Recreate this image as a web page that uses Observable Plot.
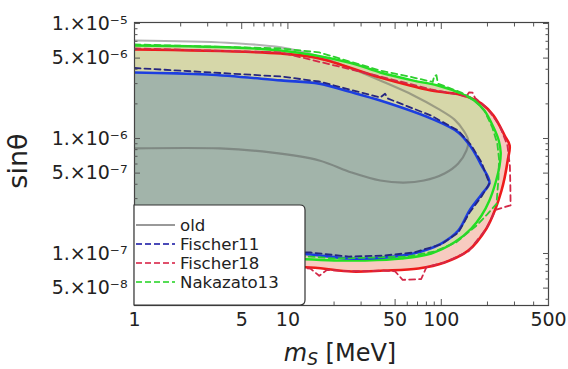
<!DOCTYPE html>
<html>
<head>
<meta charset="utf-8">
<script src="https://cdn.jsdelivr.net/npm/d3@7"></script>
<script src="https://cdn.jsdelivr.net/npm/@observablehq/plot@0.6"></script>
<style>
  html, body { margin: 0; padding: 0; background: #fff; }
  #chart { width: 568px; height: 369px; }
  #chart svg { overflow: visible; }
</style>
</head>
<body>
<div id="chart"></div>
<script>
// Excluded regions in the (m_S, sin theta) plane, as closed contours [m_S in MeV, sin theta].
const redEdge = [
  [1, 5.94e-6], [9, 5.48e-6], [16, 4.97e-6], [40, 3.39e-6], [86, 2.61e-6], [141, 2.37e-6],
  [183, 2.01e-6], [219, 1.58e-6], [259, 1.06e-6], [279, 8.69e-7], [271, 6.44e-7], [259, 4.58e-7],
  [247, 3.53e-7], [226, 2.46e-7], [197, 1.65e-7], [150, 1.06e-7], [105, 8.35e-8], [71, 7.41e-8],
  [42, 7.11e-8], [26, 6.97e-8], [14, 7.55e-8], [1, 8.35e-8]
];
const greenEdge = [
  [1, 6.44e-6], [9, 5.82e-6], [25, 4.58e-6], [40, 3.75e-6], [66, 3.19e-6], [95, 2.89e-6],
  [135, 2.46e-6], [164, 2.14e-6], [191, 1.75e-6], [219, 1.25e-6], [237, 9.6e-7], [244, 7.56e-7],
  [240, 5.82e-7], [226, 4.14e-7], [206, 2.89e-7], [183, 2.14e-7], [157, 1.65e-7], [122, 1.25e-7],
  [86, 1.0e-7], [55, 9.05e-8], [32, 8.7e-8], [20, 8.7e-8], [13, 8.9e-8], [1, 9.6e-8]
];
const blueEdge = [
  [1, 3.75e-6], [3, 3.6e-6], [9, 3.2e-6], [16, 3.0e-6], [25, 2.56e-6], [40, 2.14e-6],
  [86, 1.49e-6], [129, 1.13e-6], [157, 8.35e-7], [183, 5.82e-7], [206, 4.14e-7], [183, 3.26e-7],
  [153, 2.37e-7], [129, 1.58e-7], [100, 1.22e-7], [66, 1.0e-7], [42, 9.2e-8], [25, 9.05e-8],
  [14, 9.8e-8], [9, 1.0e-7], [1, 1.06e-7]
];
// Earlier bound ("old"), open towards small masses.
const oldEdge = [
  [1, 7.11e-6], [4, 6.8e-6], [9, 6.2e-6], [15, 5.3e-6], [25, 4.14e-6], [40, 3.19e-6],
  [66, 2.37e-6], [95, 1.82e-6], [122, 1.46e-6], [141, 1.15e-6], [150, 9.6e-7], [146, 7.87e-7],
  [129, 6.07e-7], [105, 4.97e-7], [77, 4.31e-7], [57, 4.14e-7], [40, 4.31e-7], [26, 5.06e-7],
  [16, 6.44e-7], [7.7, 7.56e-7], [3.6, 8.19e-7], [1, 8.19e-7]
];
// Bounds for the individual supernova models.
const fischer11 = [
  [1, 4.1e-6], [9, 3.46e-6], [16, 3.13e-6], [40, 2.27e-6], [43, 2.45e-6], [45, 2.22e-6],
  [86, 1.58e-6], [129, 1.17e-6], [157, 8.7e-7], [183, 6.2e-7], [200, 4.5e-7], [207, 4.1e-7],
  [185, 3.2e-7], [153, 2.27e-7], [129, 1.52e-7], [100, 1.2e-7], [66, 1.02e-7], [42, 9.6e-8],
  [25, 9.4e-8], [14, 1.02e-7], [1, 1.1e-7]
];
const fischer18 = [
  [1, 6.07e-6], [9, 5.6e-6], [40, 3.46e-6], [86, 2.67e-6], [130, 2.4e-6], [145, 2.3e-6],
  [152, 2.52e-6], [160, 2.5e-6], [166, 2.25e-6], [200, 1.82e-6], [240, 1.3e-6], [270, 8.7e-7],
  [280, 5.8e-7], [282, 3.9e-7], [283, 2.62e-7], [226, 2.4e-7], [197, 1.65e-7], [150, 1.04e-7],
  [105, 8.35e-8], [80, 7.6e-8], [74, 6.0e-8], [56, 5.9e-8], [50, 7.0e-8], [42, 7.1e-8],
  [26, 7.0e-8], [18, 7.2e-8], [16, 6.4e-8], [14, 7.4e-8], [1, 8.35e-8]
];
const nakazato13 = [
  [1, 6.57e-6], [9, 6.07e-6], [16, 5.6e-6], [40, 3.9e-6], [66, 3.39e-6], [88, 3.1e-6],
  [90, 3.5e-6], [93, 3.55e-6], [95, 3.0e-6], [135, 2.51e-6], [164, 2.18e-6], [191, 1.75e-6],
  [215, 1.25e-6], [232, 9.0e-7], [238, 6.6e-7], [236, 4.5e-7], [229, 2.7e-7], [200, 2.2e-7],
  [170, 1.75e-7], [125, 1.25e-7], [90, 1.04e-7], [60, 9.4e-8], [35, 9.2e-8], [20, 9.05e-8],
  [14, 9.4e-8], [1, 1.0e-7]
];

// Tick positions
const xMajor = [1, 5, 10, 50, 100, 500];
const xMinor = [2, 3, 4, 6, 7, 8, 9, 20, 30, 40, 60, 70, 80, 90, 200, 300, 400];
const yMajor = [5e-8, 1e-7, 5e-7, 1e-6, 5e-6, 1e-5];
const yMinor = [4e-8, 6e-8, 7e-8, 8e-8, 9e-8, 2e-7, 3e-7, 4e-7, 6e-7, 7e-7, 8e-7, 9e-7,
                2e-6, 3e-6, 4e-6, 6e-6, 7e-6, 8e-6, 9e-6];

// Legend entries
const legendNames = ["old", "Fischer11", "Fischer18", "Nakazato13"];
const legendColors = ["#999999", "#4a4ab8", "#e0506c", "#55dd55"];
const legendDash = [null, "6,3", "6,3", "6,3"];

(function () {
const rows = pts => pts.map(([m, s]) => ({m, s}));

const supMap = {"-": "⁻", "0": "⁰", "1": "¹", "2": "²", "3": "³", "4": "⁴", "5": "⁵", "6": "⁶", "7": "⁷", "8": "⁸", "9": "⁹"};
const unsup = Object.fromEntries(Object.entries(supMap).map(([k, v]) => [v, k === "-" ? "\u2212" : k]));
function sciLabel(v) {
  const e = Math.floor(Math.log10(v) + 1e-9);
  const mant = Math.round(v / Math.pow(10, e));
  return `${mant}.\u00d710` + String(e).split("").map(c => supMap[c]).join("");
}

const tickColor = "#555";
const fs = 19;
const font = "DejaVu Sans, sans-serif";

const plot = Plot.plot({
  width: 568,
  height: 369,
  marginLeft: 134,
  marginRight: 20,
  marginTop: 22,
  marginBottom: 64,
  style: {fontFamily: font, fontSize: fs + "px", color: "#222", background: "#fff"},
  x: {type: "log", domain: [1, 500], label: null},
  y: {type: "log", domain: [3.53e-8, 1.02e-5], label: null},
  marks: [
    // filled regions
    Plot.line(rows(redEdge), {x: "m", y: "s", fill: "#f7cbc0", stroke: "none", curve: "catmull-rom", clip: true}),
    Plot.line(rows(greenEdge), {x: "m", y: "s", fill: "#d6d7a9", stroke: "none", curve: "catmull-rom", clip: true}),
    Plot.line(rows(blueEdge), {x: "m", y: "s", fill: "#a2b4aa", stroke: "none", curve: "catmull-rom", clip: true}),
    // earlier bound
    Plot.line(rows(oldEdge), {x: "m", y: "s", stroke: "#555", strokeOpacity: 0.45, strokeWidth: 2.2, curve: "catmull-rom", clip: true}),
    // combined bounds
    Plot.line(rows(redEdge), {x: "m", y: "s", stroke: "#ee1b1b", strokeWidth: 2.6, curve: "catmull-rom", clip: true}),
    Plot.line(rows(greenEdge), {x: "m", y: "s", stroke: "#22e022", strokeWidth: 2.4, curve: "catmull-rom", clip: true}),
    Plot.line(rows(blueEdge), {x: "m", y: "s", stroke: "#1c3ee0", strokeWidth: 2.6, curve: "catmull-rom", clip: true}),
    // individual models
    Plot.line(rows(fischer18), {x: "m", y: "s", stroke: "#d42848", strokeWidth: 1.8, strokeDasharray: "6,4", clip: true}),
    Plot.line(rows(nakazato13), {x: "m", y: "s", stroke: "#2fcf2f", strokeWidth: 1.8, strokeDasharray: "6,4", clip: true}),
    Plot.line(rows(fischer11), {x: "m", y: "s", stroke: "#262680", strokeWidth: 1.8, strokeDasharray: "6,4", clip: true}),
    Plot.frame({stroke: "#444", strokeWidth: 1.2}),
    // inward ticks on all four sides
    Plot.axisX({anchor: "bottom", ticks: xMajor, tickSize: -6, tickFormat: () => "", stroke: tickColor, label: null}),
    Plot.axisX({anchor: "bottom", ticks: xMinor, tickSize: -3.5, tickFormat: () => "", stroke: tickColor, label: null}),
    Plot.axisX({anchor: "top", ticks: xMajor, tickSize: -6, tickFormat: () => "", stroke: tickColor, label: null}),
    Plot.axisX({anchor: "top", ticks: xMinor, tickSize: -3.5, tickFormat: () => "", stroke: tickColor, label: null}),
    Plot.axisY({anchor: "left", ticks: yMajor, tickSize: -6, tickFormat: () => "", stroke: tickColor, label: null}),
    Plot.axisY({anchor: "left", ticks: yMinor, tickSize: -3.5, tickFormat: () => "", stroke: tickColor, label: null}),
    Plot.axisY({anchor: "right", ticks: yMajor, tickSize: -6, tickFormat: () => "", stroke: tickColor, label: null}),
    Plot.axisY({anchor: "right", ticks: yMinor, tickSize: -3.5, tickFormat: () => "", stroke: tickColor, label: null}),
    // tick labels
    Plot.text(xMajor, {x: d => d, frameAnchor: "bottom", dy: 20, text: d => String(d), fontSize: fs, fill: "#222", textAnchor: "middle"}),
    Plot.text(yMajor, {y: d => d, frameAnchor: "left", dx: -7, text: sciLabel, fontSize: fs, fill: "#222", textAnchor: "end", ariaLabel: "y tick label"})
  ]
});

const svg = d3.select(plot);

// exponent as a raised tspan
svg.selectAll('g[aria-label="y tick label"] text').each(function () {
  const t = this.textContent;
  const i = t.indexOf("\u00d710");
  if (i < 0) return;
  const mant = t.slice(0, i + 3);
  const exp = t.slice(i + 3).split("").map(c => unsup[c] ?? c).join("");
  const el = d3.select(this);
  el.text(mant);
  el.append("tspan").attr("dy", "-0.55em").attr("font-size", "0.74em").text(exp);
});

const xs = plot.scale("x"), ys = plot.scale("y");
const fLeft = xs.apply(1), fRight = xs.apply(500);
const fBottom = ys.apply(3.53e-8);

// axis titles
svg.append("text")
  .attr("transform", `translate(${fLeft - 107},${ys.apply(6.3e-7)}) rotate(-90)`)
  .attr("text-anchor", "middle")
  .attr("font-family", font)
  .attr("font-size", 27).attr("fill", "#222")
  .text("sin\u03b8");

const xt = svg.append("text")
  .attr("x", (fLeft + fRight) / 2 - 1).attr("y", fBottom + 56)
  .attr("text-anchor", "middle")
  .attr("font-family", font)
  .attr("font-size", 24).attr("fill", "#222");
xt.append("tspan").attr("font-style", "italic").text("m");
xt.append("tspan").attr("font-style", "italic").attr("font-size", 17).attr("dy", 4).text("S");
xt.append("tspan").attr("dy", -4).text(" [MeV]");

// legend box in the lower-left corner of the frame
const lg = svg.append("g");
const lw = 171, lh = 100, r = 5;
const lx = fLeft, ly = fBottom - lh;
lg.append("path")
  .attr("d", `M${lx},${ly} H${lx + lw - r} Q${lx + lw},${ly} ${lx + lw},${ly + r} V${fBottom - r} Q${lx + lw},${fBottom} ${lx + lw - r},${fBottom} H${lx} Z`)
  .attr("fill", "#fff").attr("stroke", "#333").attr("stroke-width", 1.2);
legendNames.forEach((name, i) => {
  const yy = ly + 20 + i * 19;
  lg.append("line")
    .attr("x1", lx + 2).attr("x2", lx + 41).attr("y1", yy).attr("y2", yy)
    .attr("stroke", legendColors[i]).attr("stroke-width", 2)
    .attr("stroke-dasharray", legendDash[i]);
  lg.append("text")
    .attr("x", lx + 46).attr("y", yy).attr("dy", "0.35em")
    .attr("text-anchor", "start")
    .attr("font-family", font)
    .attr("font-size", 16.6).attr("fill", "#222")
    .text(name);
});

document.getElementById("chart").appendChild(plot);
})();
</script>
</body>
</html>
